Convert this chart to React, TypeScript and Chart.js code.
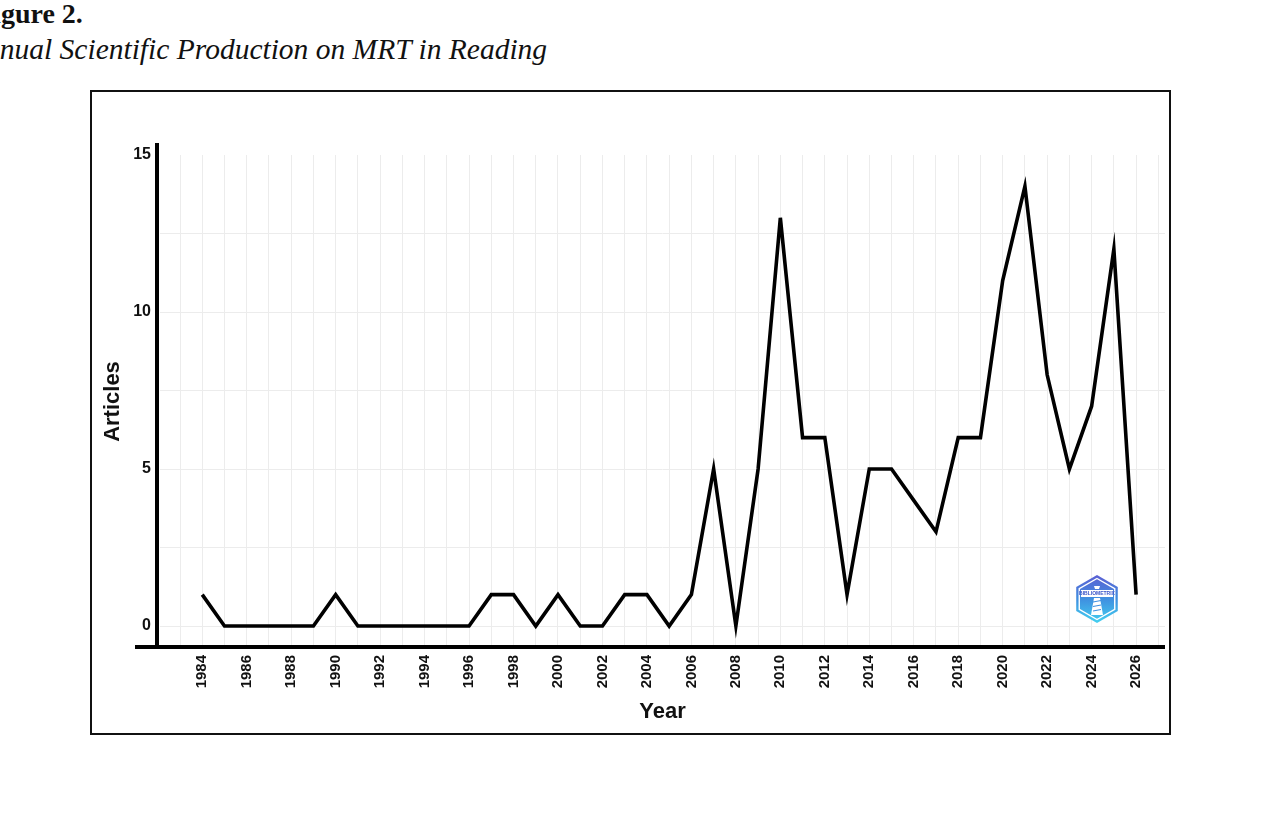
import React, { useEffect, useRef } from "react";
import { Chart, registerables } from "chart.js";

Chart.register(...registerables);

// Annual article counts, 1984–2026
const years: number[] = [
  1984, 1985, 1986, 1987, 1988, 1989, 1990, 1991, 1992, 1993, 1994, 1995, 1996, 1997,
  1998, 1999, 2000, 2001, 2002, 2003, 2004, 2005, 2006, 2007, 2008, 2009, 2010, 2011,
  2012, 2013, 2014, 2015, 2016, 2017, 2018, 2019, 2020, 2021, 2022, 2023, 2024, 2025, 2026,
];
const articles: number[] = [
  1, 0, 0, 0, 0, 0, 1, 0, 0, 0, 0, 0, 0, 1,
  1, 0, 1, 0, 0, 1, 1, 0, 1, 5, 0, 5, 13, 6,
  6, 1, 5, 5, 4, 3, 6, 6, 11, 14, 8, 5, 7, 12, 1,
];

// Labelled ticks
const xTickLabels: number[] = [
  1984, 1986, 1988, 1990, 1992, 1994, 1996, 1998, 2000, 2002, 2004, 2006, 2008, 2010,
  2012, 2014, 2016, 2018, 2020, 2022, 2024, 2026,
];
const yTickLabels: number[] = [0, 5, 10, 15];
const yGridValues: number[] = [0, 2.5, 5, 7.5, 10, 12.5, 15];

const X_MIN = 1982.1;
const X_MAX = 2027.3;
const Y_MIN = -0.7;
const Y_MAX = 15;

const GRID = "#ececec";
const FONT = "'Liberation Sans', Arial, sans-serif";

// Heavy black axis lines drawn over the panel
const axisLines = {
  id: "axisLines",
  afterDatasetsDraw(chart: any) {
    const { ctx, chartArea } = chart;
    ctx.save();
    ctx.strokeStyle = "#000";
    ctx.lineWidth = 4;
    ctx.lineCap = "butt";
    ctx.beginPath();
    ctx.moveTo(chartArea.left - 3, chartArea.top - 12);
    ctx.lineTo(chartArea.left - 3, chartArea.bottom + 1);
    ctx.stroke();
    ctx.beginPath();
    ctx.moveTo(chartArea.left - 25, chartArea.bottom - 1);
    ctx.lineTo(chartArea.right, chartArea.bottom - 1);
    ctx.stroke();
    ctx.restore();
  },
};

// Small hexagonal badge in the lower right of the panel
const badge = {
  id: "badge",
  afterDatasetsDraw(chart: any) {
    const { ctx, chartArea } = chart;
    const cx = chartArea.right - 68;
    const cy = chartArea.bottom - 49;
    const r = 24;
    const hex = (rad: number) => {
      ctx.beginPath();
      for (let i = 0; i < 6; i++) {
        const a = -Math.PI / 2 + (i * Math.PI) / 3;
        const px = cx + rad * Math.cos(a);
        const py = cy + rad * Math.sin(a);
        if (i === 0) ctx.moveTo(px, py);
        else ctx.lineTo(px, py);
      }
      ctx.closePath();
    };
    ctx.save();
    const g = ctx.createLinearGradient(cx, cy - r, cx, cy + r);
    g.addColorStop(0, "#5b5fd3");
    g.addColorStop(0.5, "#3f8fe0");
    g.addColorStop(1, "#43d0f0");
    hex(r);
    ctx.fillStyle = g;
    ctx.fill();
    hex(r - 3.5);
    ctx.strokeStyle = "#ffffff";
    ctx.lineWidth = 1.4;
    ctx.stroke();
    // banner
    ctx.fillStyle = "#ffffff";
    ctx.fillRect(cx - 16, cy - 9, 32, 7);
    ctx.fillStyle = "#3b55c9";
    ctx.font = "bold 5px " + FONT;
    ctx.textAlign = "center";
    ctx.textBaseline = "middle";
    ctx.fillText("BIBLIOMETRIX", cx, cy - 5.5);
    // tower
    ctx.fillStyle = "#ffffff";
    ctx.beginPath();
    ctx.moveTo(cx - 3, cy - 13);
    ctx.lineTo(cx + 3, cy - 13);
    ctx.lineTo(cx + 2, cy - 10);
    ctx.lineTo(cx - 2, cy - 10);
    ctx.closePath();
    ctx.fill();
    ctx.beginPath();
    ctx.moveTo(cx - 3, cy - 1);
    ctx.lineTo(cx + 3, cy - 1);
    ctx.lineTo(cx + 6, cy + 16);
    ctx.lineTo(cx - 6, cy + 16);
    ctx.closePath();
    ctx.fill();
    ctx.strokeStyle = "#3f8fe0";
    ctx.lineWidth = 1.2;
    for (let k = 0; k < 3; k++) {
      ctx.beginPath();
      ctx.moveTo(cx - 4, cy + 3 + k * 4.5);
      ctx.lineTo(cx + 4, cy + 1.5 + k * 4.5);
      ctx.stroke();
    }
    ctx.restore();
  },
};

export default function App() {
  const canvasRef = useRef<HTMLCanvasElement | null>(null);

  useEffect(() => {
    if (!canvasRef.current) return;
    const chart = new Chart(canvasRef.current, {
      type: "line",
      data: {
        datasets: [
          {
            label: "Articles",
            data: years.map((y, i) => ({ x: y, y: articles[i] })),
            borderColor: "#000000",
            borderWidth: 3.6,
            borderJoinStyle: "miter",
            pointRadius: 0,
            tension: 0,
            fill: false,
          },
        ],
      },
      options: {
        animation: false,
        responsive: false,
        maintainAspectRatio: false,
        layout: { padding: { top: 63, right: 4, left: 0, bottom: 0 } },
        plugins: {
          legend: { display: false },
          tooltip: { enabled: false },
        },
        scales: {
          x: {
            type: "linear",
            min: X_MIN,
            max: X_MAX,
            afterBuildTicks: (scale: any) => {
              const t: { value: number }[] = [];
              for (let v = Math.ceil(X_MIN); v <= Math.floor(X_MAX); v++) t.push({ value: v });
              scale.ticks = t;
            },
            afterFit: (scale: any) => {
              scale.height = 85;
              scale.paddingLeft = 0;
              scale.paddingRight = 0;
            },
            border: { display: false },
            grid: { color: GRID, lineWidth: 1, drawTicks: false },
            ticks: {
              autoSkip: false,
              maxRotation: 90,
              minRotation: 90,
              padding: 7,
              color: "#111",
              font: { family: FONT, size: 15, weight: "bold" },
              callback: (v: any) => (xTickLabels.includes(Number(v)) ? String(v) : ""),
            },
            title: {
              display: true,
              text: "Year",
              color: "#111",
              font: { family: FONT, size: 22, weight: "bold" },
              padding: { top: 0, bottom: 8 },
            },
          },
          y: {
            type: "linear",
            min: Y_MIN,
            max: Y_MAX,
            afterBuildTicks: (scale: any) => {
              scale.ticks = yGridValues.map((v) => ({ value: v }));
            },
            afterFit: (scale: any) => {
              scale.width = 68;
              scale.paddingTop = 0;
              scale.paddingBottom = 0;
            },
            border: { display: false },
            grid: {
              lineWidth: 1,
              drawTicks: false,
              color: (c: any) => (c.tick && c.tick.value === Y_MAX ? "rgba(0,0,0,0)" : GRID),
            },
            ticks: {
              autoSkip: false,
              padding: 9,
              color: "#111",
              font: { family: FONT, size: 16, weight: "bold" },
              callback: (v: any) => (yTickLabels.includes(Number(v)) ? String(v) : ""),
            },
            title: {
              display: true,
              text: "Articles",
              color: "#111",
              font: { family: FONT, size: 22, weight: "bold" },
              padding: { top: 8, bottom: 0 },
            },
          },
        },
      },
      plugins: [axisLines, badge],
    });
    return () => chart.destroy();
  }, []);

  return (
    <div style={{ position: "absolute", left: 0, top: 0, width: 1262, height: 826, overflow: "hidden", background: "#fff" }}>
      <div
        style={{
          position: "absolute",
          left: -24,
          top: 0,
          fontFamily: "'Liberation Serif', 'Times New Roman', serif",
          fontWeight: "bold",
          fontSize: 28,
          lineHeight: "28px",
          color: "#111",
          whiteSpace: "nowrap",
        }}
      >
        Figure 2.
      </div>
      <div
        style={{
          position: "absolute",
          left: -33,
          top: 34,
          fontFamily: "'Liberation Serif', 'Times New Roman', serif",
          fontStyle: "italic",
          fontSize: 29.5,
          lineHeight: "30px",
          color: "#111",
          whiteSpace: "nowrap",
        }}
      >
        Annual Scientific Production on MRT in Reading
      </div>
      <div
        style={{
          position: "absolute",
          left: 90,
          top: 90,
          width: 1081,
          height: 645,
          border: "2px solid #111",
          boxSizing: "border-box",
        }}
      >
        <canvas ref={canvasRef} width={1077} height={641} style={{ display: "block", width: 1077, height: 641 }} />
      </div>
    </div>
  );
}
